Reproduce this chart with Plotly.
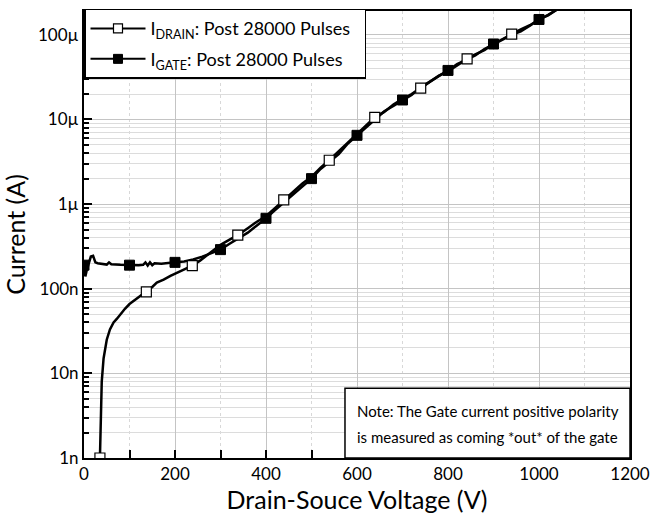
import plotly.graph_objects as go

# ---------------- data ----------------
drain_v = [35, 37, 39, 43, 50, 57, 65, 72, 80, 90, 100, 115, 125, 137, 150, 160, 175, 190,
           210, 225, 238, 255, 270, 285, 300, 320, 338, 360, 380, 400, 420, 439, 460, 480,
           500, 520, 539, 560, 580, 600, 620, 639, 660, 680, 700, 720, 740, 760, 780, 800,
           820, 842, 860, 880, 900, 920, 940, 960, 980, 1000, 1020, 1040]
drain_i = [1.0e-9, 3e-9, 8e-9, 15e-9, 25e-9, 33e-9, 40e-9, 44e-9, 50e-9, 58e-9, 66e-9, 76e-9,
           84e-9, 92e-9, 105e-9, 118e-9, 128e-9, 142e-9, 160e-9, 175e-9, 188e-9, 215e-9,
           250e-9, 290e-9, 330e-9, 380e-9, 430e-9, 520e-9, 620e-9, 720e-9, 900e-9, 1.12e-6,
           1.4e-6, 1.75e-6, 2.1e-6, 2.7e-6, 3.3e-6, 4.2e-6, 5.3e-6, 6.6e-6, 8.5e-6, 10.6e-6,
           12.3e-6, 15e-6, 17.5e-6, 20e-6, 23.5e-6, 28e-6, 33e-6, 37e-6, 44e-6, 52e-6, 59e-6,
           66e-6, 78e-6, 90e-6, 102e-6, 116e-6, 130e-6, 152e-6, 172e-6, 200e-6]
drain_marker_v = [35, 137, 238, 338, 439, 539, 639, 740, 842, 940]
drain_marker_i = [1.0e-9, 92e-9, 188e-9, 430e-9, 1.12e-6, 3.3e-6, 10.6e-6, 23.5e-6, 52e-6, 102e-6]

gate_v = [0, 3, 6, 10, 15, 20, 25, 30, 40, 50, 55, 60, 80, 100, 120, 130, 135, 140, 145, 150,
          155, 170, 185, 200, 220, 240, 260, 280, 300, 320, 340, 360, 380, 400, 420, 440, 460,
          480, 500, 520, 540, 560, 580, 600, 620, 640, 660, 680, 700, 720, 740, 760, 780, 800,
          820, 840, 860, 880, 900, 920, 940, 960, 980, 1000, 1020, 1040]
gate_i = [190e-9, 140e-9, 165e-9, 195e-9, 240e-9, 245e-9, 205e-9, 200e-9, 195e-9, 193e-9,
          205e-9, 195e-9, 192e-9, 190e-9, 190e-9, 192e-9, 205e-9, 188e-9, 205e-9, 190e-9,
          200e-9, 198e-9, 200e-9, 205e-9, 210e-9, 222e-9, 240e-9, 265e-9, 290e-9, 340e-9,
          400e-9, 460e-9, 560e-9, 680e-9, 850e-9, 1.05e-6, 1.3e-6, 1.6e-6, 2.0e-6, 2.6e-6,
          3.2e-6, 3.9e-6, 5.2e-6, 6.5e-6, 8.0e-6, 10e-6, 12.5e-6, 14.5e-6, 17e-6, 19.5e-6,
          24e-6, 28e-6, 32e-6, 38e-6, 45e-6, 51e-6, 57e-6, 68e-6, 78e-6, 88e-6, 100e-6,
          110e-6, 128e-6, 152e-6, 170e-6, 200e-6]
gate_marker_v = [0, 100, 200, 300, 400, 500, 600, 700, 800, 900, 1000]
gate_marker_i = [190e-9, 190e-9, 205e-9, 290e-9, 680e-9, 2.0e-6, 6.5e-6, 17e-6, 38e-6, 78e-6, 152e-6]

drain_name = "I<sub>DRAIN</sub>: Post 28000 Pulses  "
gate_name = "I<sub>GATE</sub>: Post 28000 Pulses  "

y_tickvals = [1e-9, 1e-8, 1e-7, 1e-6, 1e-5, 1e-4]
y_ticktext = ["1n", "10n", "100n", "1\u00b5", "10\u00b5", "100\u00b5"]
x_tickvals = [0, 200, 400, 600, 800, 1000, 1200]

note_lines = ["Note: The Gate current positive polarity",
              "is measured as coming *out* of the gate"]

FONT = "Lato"
LW = 2.5
MS = 10

fig = go.Figure()

# lines
fig.add_trace(go.Scatter(x=drain_v, y=drain_i, mode="lines",
                         line=dict(color="black", width=LW), showlegend=False))
fig.add_trace(go.Scatter(x=gate_v, y=gate_i, mode="lines",
                         line=dict(color="black", width=LW), showlegend=False))
# markers
fig.add_trace(go.Scatter(x=drain_marker_v, y=drain_marker_i, mode="markers",
                         marker=dict(symbol="square", size=MS, color="white",
                                     line=dict(color="black", width=1.2)),
                         showlegend=False))
fig.add_trace(go.Scatter(x=gate_marker_v, y=gate_marker_i, mode="markers",
                         marker=dict(symbol="square", size=MS, color="black",
                                     line=dict(color="black", width=1)),
                         showlegend=False))
# legend entries
fig.add_trace(go.Scatter(x=[None], y=[None], mode="lines+markers", name=drain_name,
                         legendgroup="d",
                         line=dict(color="black", width=2),
                         marker=dict(symbol="square", size=9, color="white",
                                     line=dict(color="black", width=1.2))))
fig.add_trace(go.Scatter(x=[None], y=[None], mode="lines+markers", name=gate_name,
                         legendgroup="g",
                         line=dict(color="black", width=2),
                         marker=dict(symbol="square", size=9, color="black",
                                     line=dict(color="black", width=1))))

minor_y = [m * 10.0 ** e for e in range(-9, -3) for m in range(2, 10)]

fig.update_xaxes(range=[0, 1200], tickvals=x_tickvals, ticks="inside", ticklen=8,
                 tickwidth=1.5, tickcolor="black",
                 showline=True, linecolor="black", linewidth=2, mirror=True,
                 showgrid=True, gridcolor="#c4c4c4", gridwidth=1, zeroline=False,
                 tickfont=dict(family=FONT, size=17, color="black"),
                 minor=dict(dtick=100, ticks="inside", ticklen=8, tickcolor="black",
                            showgrid=True, gridcolor="#d8d8d8", griddash="dot"),
                 title=dict(text="Drain-Souce Voltage (V)", standoff=3,
                            font=dict(family=FONT, size=25, color="black")))
fig.update_yaxes(type="log", range=[-9, -3.718], tickvals=y_tickvals, ticktext=y_ticktext,
                 ticks="inside", ticklen=8, tickwidth=1.5, tickcolor="black",
                 showline=True, linecolor="black", linewidth=2, mirror=True,
                 showgrid=True, gridcolor="#c4c4c4", gridwidth=1, zeroline=False,
                 tickfont=dict(family=FONT, size=17, color="black"),
                 minor=dict(tickvals=minor_y, ticks="inside", ticklen=5, tickcolor="black",
                            showgrid=True, gridcolor="#dcdcdc"),
                 title=dict(text="Current (A)", standoff=6,
                            font=dict(family=FONT, size=25, color="black")))

# note box
fig.add_shape(type="rect", xref="paper", yref="paper", x0=0.478, x1=1.0, y0=0.0, y1=0.156,
              line=dict(color="black", width=1.5), fillcolor="white", layer="above")
fig.add_annotation(xref="paper", yref="paper", x=0.497, y=0.106, xanchor="left",
                   yanchor="middle", showarrow=False, text=note_lines[0],
                   font=dict(family=FONT, size=15, color="black"))
fig.add_annotation(xref="paper", yref="paper", x=0.497, y=0.046, xanchor="left",
                   yanchor="middle", showarrow=False, text=note_lines[1],
                   font=dict(family=FONT, size=15, color="black"))

fig.update_layout(
    width=659, height=514,
    margin=dict(l=84, r=23, t=9, b=56),
    paper_bgcolor="white", plot_bgcolor="white",
    legend=dict(x=0, y=1.005, xanchor="left", yanchor="top", bgcolor="white",
                bordercolor="black", borderwidth=1.5, itemwidth=55,
                font=dict(family=FONT, size=18, color="black"),
                tracegroupgap=4),
    font=dict(family=FONT, color="black"),
)

fig.write_html("out.html")
